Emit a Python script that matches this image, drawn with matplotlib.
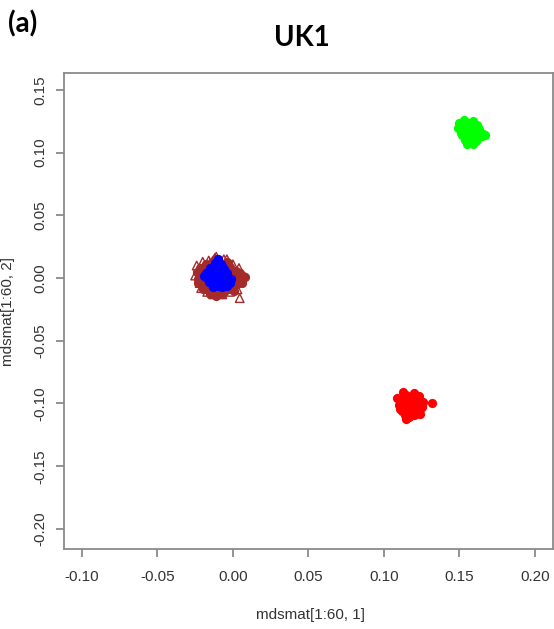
import numpy as np
import matplotlib.pyplot as plt

# MDS coordinates, first two dimensions, grouped by sample class
red_x = [0.118, 0.112, 0.124, 0.115, 0.121, 0.110, 0.126, 0.117, 0.113, 0.123, 0.119, 0.109, 0.116,
         0.122, 0.114, 0.120, 0.125, 0.111, 0.118, 0.115, 0.121, 0.117, 0.113, 0.124, 0.132,
         0.116, 0.119, 0.121, 0.114, 0.118, 0.122, 0.115, 0.120, 0.112, 0.123]
red_y = [-0.101, -0.097, -0.104, -0.093, -0.108, -0.101, -0.099, -0.111, -0.106, -0.094, -0.102, -0.096, -0.100,
         -0.105, -0.109, -0.092, -0.103, -0.104, -0.097, -0.112, -0.099, -0.106, -0.091, -0.108, -0.100,
         -0.098, -0.095, -0.102, -0.103, -0.107, -0.097, -0.100, -0.109, -0.106, -0.101]

green_x = [0.150, 0.153, 0.156, 0.159, 0.162, 0.151, 0.155, 0.158, 0.161, 0.164, 0.167, 0.152, 0.156,
           0.160, 0.165, 0.154, 0.157, 0.161, 0.155, 0.159, 0.149, 0.163, 0.157, 0.153, 0.166,
           0.153, 0.157, 0.160, 0.156, 0.162, 0.151, 0.158]
green_y = [0.124, 0.126, 0.124, 0.125, 0.122, 0.119, 0.121, 0.120, 0.117, 0.116, 0.114, 0.114, 0.115,
           0.113, 0.113, 0.110, 0.109, 0.109, 0.107, 0.107, 0.120, 0.119, 0.118, 0.117, 0.115,
           0.121, 0.123, 0.118, 0.112, 0.111, 0.116, 0.114]

blue_x = [-0.010, -0.012, -0.008, -0.015, -0.011, -0.006, -0.018, -0.014, -0.009, -0.004, -0.017, -0.013, -0.008,
          -0.003, -0.016, -0.011, -0.006, -0.002, -0.014, -0.009, -0.004, -0.012, -0.007, -0.010, -0.015, -0.005,
          -0.013, -0.007, -0.019, -0.001, -0.010, -0.016]
blue_y = [0.015, 0.012, 0.011, 0.008, 0.009, 0.007, 0.004, 0.005, 0.006, 0.004, 0.000, 0.002, 0.001,
          0.000, -0.003, -0.002, -0.003, -0.004, -0.005, -0.006, -0.006, 0.003, 0.010, -0.001, 0.006, 0.002,
          -0.007, -0.007, 0.002, -0.001, -0.005, 0.001]

brown_x = [-0.022, -0.018, -0.014, -0.010, -0.006, -0.002, 0.002, 0.005, -0.020, -0.016, -0.012, -0.008, -0.004,
           0.000, 0.004, 0.007, -0.023, -0.019, -0.015, -0.011, -0.007, -0.003, 0.001, 0.005, -0.021, -0.017,
           -0.013, -0.009, -0.005, -0.001, 0.003, -0.018, -0.014, -0.010, -0.006, -0.002, -0.012, -0.008, -0.004,
           -0.016, -0.024, -0.021, 0.006, 0.008, -0.020, -0.015, -0.007, 0.001, -0.023, 0.002, -0.011, -0.003]
brown_y = [0.008, 0.011, 0.013, 0.012, 0.010, 0.009, 0.006, 0.004, 0.004, 0.006, 0.003, 0.005, 0.006,
           0.003, 0.001, 0.002, -0.001, 0.000, -0.002, 0.001, -0.001, -0.002, -0.001, -0.003, -0.005, -0.006,
           -0.007, -0.005, -0.008, -0.006, -0.005, -0.009, -0.011, -0.010, -0.011, -0.009, 0.015, -0.012, 0.013,
           0.010, 0.005, 0.008, -0.004, 0.001, -0.009, -0.013, -0.013, -0.010, -0.004, 0.004, -0.014, 0.012]

tri_x = [-0.024, -0.020, -0.016, -0.012, -0.006, 0.000, 0.004, -0.025, -0.022, 0.006, -0.021, -0.017, -0.013,
         -0.007, -0.002, 0.003, -0.011, -0.004, 0.0045, -0.019, -0.009, 0.001]
tri_y = [0.010, 0.013, 0.014, 0.016, 0.015, 0.011, 0.008, 0.002, -0.004, -0.001, -0.008, -0.011, -0.013,
         -0.013, -0.011, -0.009, 0.017, 0.015, -0.016, 0.007, -0.012, 0.003]

xticks = [-0.10, -0.05, 0.00, 0.05, 0.10, 0.15, 0.20]
yticks = [-0.20, -0.15, -0.10, -0.05, 0.00, 0.05, 0.10, 0.15]

plt.rcParams['font.family'] = ['Liberation Sans', 'DejaVu Sans']

fig = plt.figure(figsize=(5.54, 6.29), dpi=100)
ax = fig.add_axes([0.1155, 0.1272, 0.8825, 0.7568])

dot = 44
ax.scatter(tri_x, tri_y, s=38, marker='^', facecolors='none', edgecolors='#A52A2A', linewidths=1.0)
ax.scatter(brown_x, brown_y, s=dot, color='#A52A2A', linewidths=0)
ax.scatter(blue_x, blue_y, s=dot, color='#0000FF', linewidths=0)
ax.scatter(green_x, green_y, s=dot, color='#00FF00', linewidths=0)
ax.scatter(red_x, red_y, s=dot, color='#FF0000', linewidths=0)

ax.set_xlim(-0.1119, 0.212)
ax.set_ylim(-0.216, 0.1635)
ax.set_xticks(xticks)
ax.set_xticklabels(['%.2f' % v for v in xticks])
ax.set_yticks(yticks)
ax.set_yticklabels(['%.2f' % v for v in yticks], rotation=90, va='center')

for s in ax.spines.values():
    s.set_color('#8a8a8a')
    s.set_linewidth(1.3)
ax.tick_params(axis='both', direction='out', length=6, width=1.3, color='#8a8a8a',
               labelsize=11, labelcolor='#333333')
ax.tick_params(axis='x', pad=9)
ax.tick_params(axis='y', pad=6)

fig.text(310 / 554, 1 - 615 / 629, 'mdsmat[1:60, 1]', ha='center', va='center', fontsize=11, color='#333333')
fig.text(8 / 554, 1 - 311 / 629, 'mdsmat[1:60, 2]', ha='center', va='center', rotation=90,
         fontsize=11, color='#333333')

fig.text(302 / 554, 1 - 38 / 629, 'UK1', ha='center', va='center', fontsize=20,
         fontweight='bold', family=['Lato', 'DejaVu Sans'])
fig.text(8 / 554, 1 - 24 / 629, '(a)', ha='left', va='center', fontsize=20,
         fontweight='bold', family=['Lato', 'DejaVu Sans'])

fig.savefig('out.png', dpi=100)
